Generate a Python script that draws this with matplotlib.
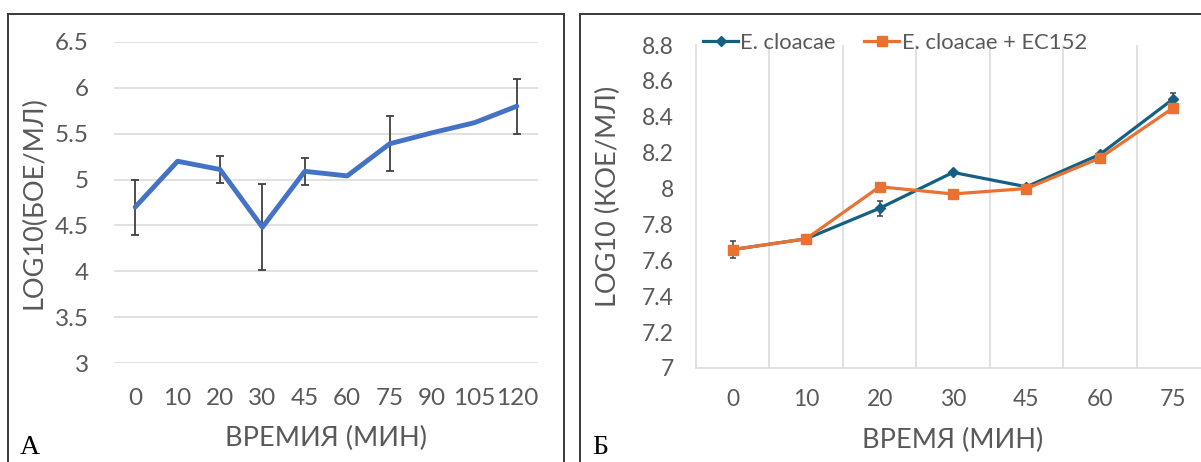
import matplotlib
matplotlib.use("Agg")
import matplotlib.pyplot as plt
from matplotlib.lines import Line2D
import numpy as np

# ---- data: panel A ----
a_categories = ["0", "10", "20", "30", "45", "60", "75", "90", "105", "120"]
a_values = [4.70, 5.20, 5.11, 4.48, 5.09, 5.04, 5.39, 5.51, 5.62, 5.80]
a_errors = [0.30, 0.0, 0.15, 0.47, 0.15, 0.0, 0.30, 0.0, 0.0, 0.30]
a_yticks = [3, 3.5, 4, 4.5, 5, 5.5, 6, 6.5]
a_yticklabels = ["3", "3.5", "4", "4.5", "5", "5.5", "6", "6.5"]

# ---- data: panel B ----
b_categories = ["0", "10", "20", "30", "45", "60", "75"]
b_cloacae = [7.66, 7.72, 7.89, 8.09, 8.01, 8.19, 8.50]
b_cloacae_err = [0.045, 0.0, 0.042, 0.01, 0.0, 0.01, 0.03]
b_phage = [7.66, 7.72, 8.01, 7.97, 8.00, 8.17, 8.45]
b_yticks = [7.0, 7.2, 7.4, 7.6, 7.8, 8.0, 8.2, 8.4, 8.6, 8.8]
b_yticklabels = ["7", "7.2", "7.4", "7.6", "7.8", "8", "8.2", "8.4", "8.6", "8.8"]
b_series_names = ["E. cloacae", "E. cloacae + EC152"]

W, H = 1201, 462
fig = plt.figure(figsize=(W / 100, H / 100), dpi=100)
fig.patch.set_facecolor("white")

def fx(px):
    return px / W

def fy(py):
    return 1 - py / H

TXT = "#595959"
GRID = "#D9D9D9"
FONT_A = "Lato"
FONT_B = "Lato"

# ---- panel frames ----
frame_col = "#3a3a3a"
for xs, ys in [([8, 8], [14, 462]), ([8, 564], [14, 14]), ([564, 564], [14, 462]),
               ([580, 580], [14, 462]), ([580, 1201], [14, 14])]:
    fig.add_artist(Line2D([fx(x) for x in xs], [fy(y) for y in ys],
                          color=frame_col, lw=1.4, transform=fig.transFigure))

# ---- panel A ----
axA = fig.add_axes([fx(114), fy(363), fx(538) - fx(114), fy(42) - fy(363)])
xa = np.arange(len(a_categories))
axA.set_xlim(-0.5, len(a_categories) - 0.5)
axA.set_ylim(3, 6.5)
for v in a_yticks:
    axA.axhline(v, color=GRID, lw=1.1, zorder=0)
for s in axA.spines.values():
    s.set_visible(False)
eb_idx = [i for i, e in enumerate(a_errors) if e > 0]
axA.errorbar([xa[i] for i in eb_idx], [a_values[i] for i in eb_idx],
             yerr=[a_errors[i] for i in eb_idx], fmt="none",
             ecolor="#404040", elinewidth=1.3, capsize=3.0, capthick=1.3, zorder=2)
axA.plot(xa, a_values, color="#4472C4", lw=3.5, zorder=3, solid_capstyle="round")
axA.set_xticks(xa)
axA.set_xticklabels(a_categories)
axA.set_yticks(a_yticks)
axA.set_yticklabels(a_yticklabels)
axA.tick_params(axis="both", length=0, labelsize=17.5, labelcolor=TXT)
axA.tick_params(axis="x", pad=18)
axA.tick_params(axis="y", pad=18)
for lab in axA.get_xticklabels() + axA.get_yticklabels():
    lab.set_fontfamily(FONT_A)
axA.set_xlabel("ВРЕМИЯ (МИН)", fontsize=19.5, color=TXT, fontfamily=FONT_A)
axA.xaxis.set_label_coords(0.5, -0.195)
axA.set_ylabel("LOG10(БОЕ/МЛ)", fontsize=19.5, color=TXT, fontfamily=FONT_A)
axA.yaxis.set_label_coords(-0.160, 0.5)
fig.text(fx(20), fy(447), "А", fontsize=20, fontfamily="Liberation Serif",
         color="black", ha="left", va="center")

# ---- panel B ----
axB = fig.add_axes([fx(696), fy(368), fx(1210) - fx(696), fy(45) - fy(368)])
xb = np.arange(len(b_categories))
axB.set_xlim(-0.5, len(b_categories) - 0.5)
axB.set_ylim(7.0, 8.8)
for b in np.arange(0.5, len(b_categories) - 0.5, 1.0):
    axB.axvline(b, color=GRID, lw=1.1, zorder=0)
for k in ["top", "right"]:
    axB.spines[k].set_visible(False)
axB.spines["left"].set_color(GRID)
axB.spines["bottom"].set_color(GRID)
axB.spines["left"].set_linewidth(1.1)
axB.spines["bottom"].set_linewidth(1.1)
axB.errorbar(xb, b_cloacae, yerr=b_cloacae_err, fmt="none", ecolor="#404040",
             elinewidth=1.1, capsize=2.2, capthick=1.1, zorder=2)
axB.plot(xb, b_cloacae, color="#156082", lw=2.3, marker="D", markersize=5.5,
         zorder=3, label=b_series_names[0])
axB.plot(xb, b_phage, color="#E97132", lw=2.3, marker="s", markersize=7.5,
         zorder=4, label=b_series_names[1])
axB.set_xticks(xb)
axB.set_xticklabels(b_categories)
axB.set_yticks(b_yticks)
axB.set_yticklabels(b_yticklabels)
axB.tick_params(axis="both", length=0, labelsize=16.5, labelcolor=TXT)
axB.tick_params(axis="x", pad=15)
axB.tick_params(axis="y", pad=16)
for lab in axB.get_xticklabels() + axB.get_yticklabels():
    lab.set_fontfamily(FONT_B)
axB.set_xlabel("ВРЕМЯ (МИН)", fontsize=19.5, color=TXT, fontfamily=FONT_B)
axB.xaxis.set_label_coords(0.5, -0.185)
axB.set_ylabel("LOG10 (КОЕ/МЛ)", fontsize=19.5, color=TXT, fontfamily=FONT_B)
axB.yaxis.set_label_coords(-0.146, 0.532)
leg = axB.legend(loc="center left", bbox_to_anchor=(fx(703), fy(43)),
                 bbox_transform=fig.transFigure, ncol=2, frameon=False,
                 borderpad=0, borderaxespad=0, handlelength=1.6,
                 handletextpad=0.1, columnspacing=1.3,
                 prop={"family": FONT_B, "size": 15.8})
for t in leg.get_texts():
    t.set_color(TXT)
fig.text(fx(592), fy(447), "Б", fontsize=20, fontfamily="Liberation Serif",
         color="black", ha="left", va="center")

fig.savefig("out.png", dpi=100, facecolor="white")
